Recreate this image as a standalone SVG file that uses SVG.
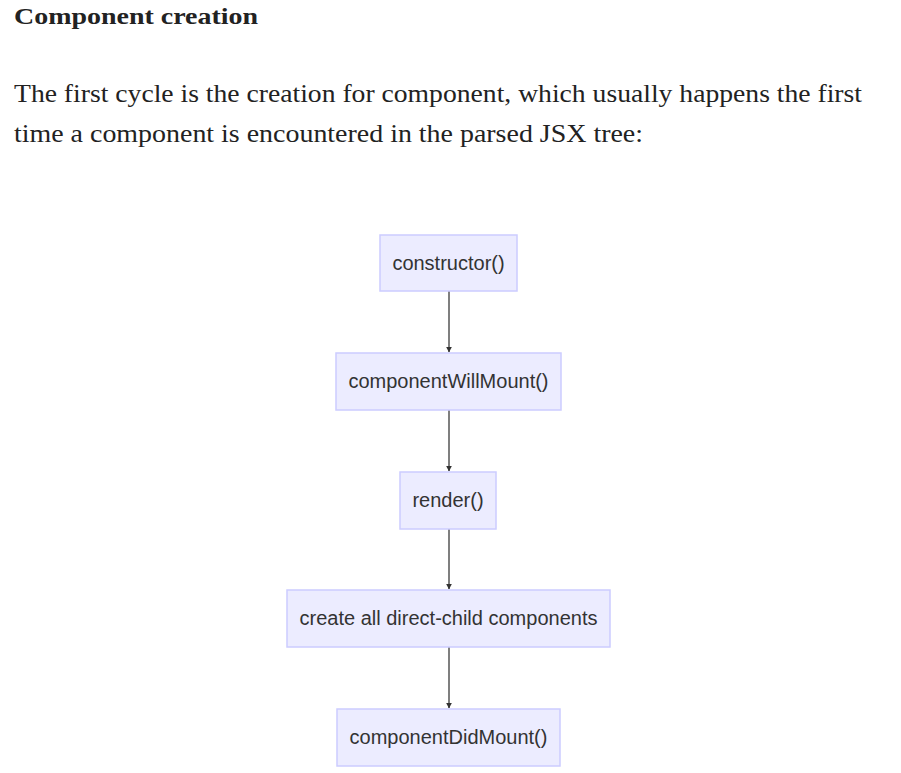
<svg xmlns="http://www.w3.org/2000/svg" width="901" height="773" viewBox="0 0 901 773">
<style>
.h{font-family:"Liberation Serif","DejaVu Serif",serif;font-weight:bold;font-size:24px;fill:#222}
.p{font-family:"Liberation Serif","DejaVu Serif",serif;font-size:25px;fill:#222}
.box{fill:#ECECFF;stroke:#CCCCFF;stroke-width:1.5}
.lbl{font-family:"Liberation Sans",Arial,sans-serif;font-size:20px;fill:#333;text-anchor:middle}
.edge{stroke:#555;stroke-width:1.5;fill:none}
</style>
<defs>
<marker id="arr" viewBox="0 0 10 10" refX="9" refY="5" markerWidth="6" markerHeight="6" orient="auto" markerUnits="userSpaceOnUse">
<path d="M0,0 L10,5 L0,10 z" fill="#333"/>
</marker>
</defs>
<rect width="901" height="773" fill="#fff"/>
<text class="h" x="14" y="24" textLength="244" lengthAdjust="spacingAndGlyphs">Component creation</text>
<text class="p" x="14" y="102" textLength="848" lengthAdjust="spacingAndGlyphs">The first cycle is the creation for component, which usually happens the first</text>
<text class="p" x="14" y="142" textLength="629" lengthAdjust="spacingAndGlyphs">time a component is encountered in the parsed JSX tree:</text>
<g id="connectors">
<line class="edge" x1="449" y1="291" x2="449" y2="352" marker-end="url(#arr)"/>
<line class="edge" x1="449" y1="410" x2="449" y2="471" marker-end="url(#arr)"/>
<line class="edge" x1="449" y1="529" x2="449" y2="589" marker-end="url(#arr)"/>
<line class="edge" x1="449" y1="647" x2="449" y2="708" marker-end="url(#arr)"/>
</g>
<g id="n1"><rect class="box" x="380" y="235" width="137" height="56"/><text class="lbl" x="448.5" y="270">constructor()</text></g>
<g id="n2"><rect class="box" x="336" y="353" width="225" height="57"/><text class="lbl" x="448.5" y="388">componentWillMount()</text></g>
<g id="n3"><rect class="box" x="400" y="472" width="96" height="57"/><text class="lbl" x="448" y="507">render()</text></g>
<g id="n4"><rect class="box" x="287" y="590" width="323" height="57"/><text class="lbl" x="448.5" y="625">create all direct-child components</text></g>
<g id="n5"><rect class="box" x="337" y="709" width="223" height="57"/><text class="lbl" x="448.5" y="744">componentDidMount()</text></g>
</svg>
